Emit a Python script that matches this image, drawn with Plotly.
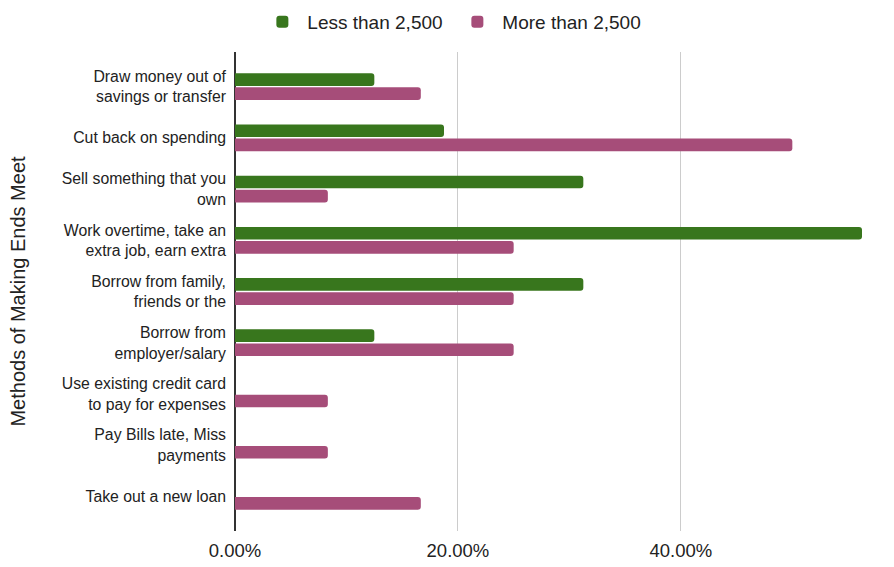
import plotly.graph_objects as go

methods = [
    "Draw money out of<br>savings or transfer",
    "Cut back on spending",
    "Sell something that you<br>own",
    "Work overtime, take an<br>extra job, earn extra",
    "Borrow from family,<br>friends or the",
    "Borrow from<br>employer/salary",
    "Use existing credit card<br>to pay for expenses",
    "Pay Bills late, Miss<br>payments",
    "Take out a new loan",
]
less_than_2500 = [0.125, 0.1875, 0.3125, 0.5625, 0.3125, 0.125, 0.0, 0.0, 0.0]
more_than_2500 = [0.1667, 0.50, 0.0833, 0.25, 0.25, 0.25, 0.0833, 0.0833, 0.1667]

FONT = "Liberation Sans, Arial, sans-serif"

fig = go.Figure()
fig.add_trace(go.Bar(
    y=methods, x=less_than_2500, orientation="h", name="Less than 2,500",
    marker=dict(color="#38761d", cornerradius=3, line=dict(width=0)),
))
fig.add_trace(go.Bar(
    y=methods, x=more_than_2500, orientation="h", name="More than 2,500",
    marker=dict(color="#a64d79", cornerradius=3, line=dict(width=0)),
))

fig.update_layout(
    width=894, height=567,
    margin=dict(l=235, r=32, t=52, b=36),
    paper_bgcolor="white", plot_bgcolor="white",
    font=dict(family=FONT, size=15.8, color="#222222"),
    barmode="group", bargap=0.45, bargroupgap=0.1,
    showlegend=True,
    legend=dict(
        orientation="h", xref="container", x=0.506, xanchor="center",
        yref="container", y=0.995, yanchor="top",
        font=dict(size=19, color="#222222"), traceorder="normal",
        itemwidth=40, entrywidth=140,
    ),
    xaxis=dict(
        range=[0, 0.5625], tickformat=".2%", dtick=0.2, tick0=0,
        showgrid=True, gridcolor="#cccccc", gridwidth=1,
        zeroline=True, zerolinecolor="#333333", zerolinewidth=1.5,
        showline=False, ticks="", tickfont=dict(size=18.5, color="#222222"),
        ticklabelstandoff=6, automargin=False,
    ),
    yaxis=dict(
        autorange=False, range=[8.675, -0.675],
        showgrid=False, ticks="", showline=False,
        tickfont=dict(size=15.8, color="#222222"), ticklabelstandoff=8,
        title=dict(text="Methods of Making Ends Meet", font=dict(size=20, color="#222222"),
                   standoff=30),
        automargin=False,
    ),
)

fig.write_html("out.html")
